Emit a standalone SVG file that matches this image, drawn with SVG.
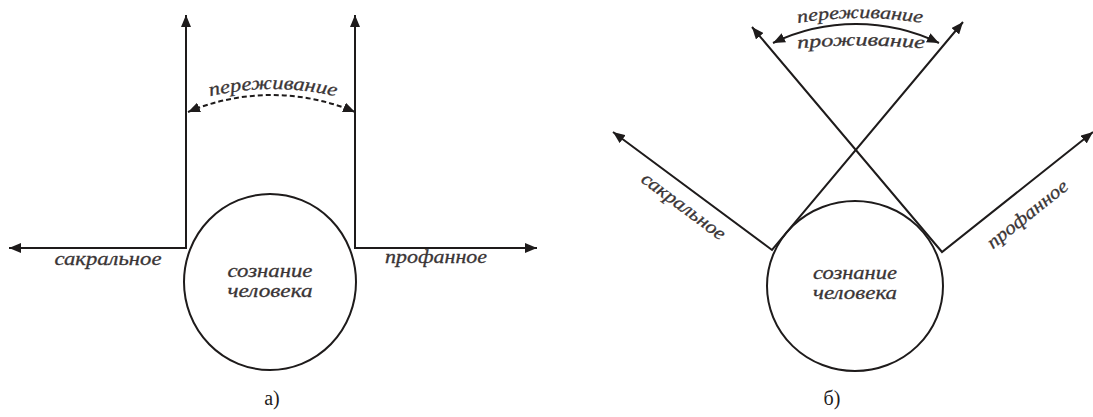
<svg xmlns="http://www.w3.org/2000/svg" width="1093" height="417" viewBox="0 0 1093 417">
<style>
.ln{fill:none;stroke:#1e1b1b;stroke-width:2;stroke-linejoin:miter}
.c{fill:none;stroke:#1e1b1b;stroke-width:2}
.t{font-family:"Liberation Serif",serif;font-style:italic;font-size:19px;fill:#3a3536;stroke:#3a3536;stroke-width:0.3}
.ts{font-size:18px}
.cap{font-family:"Liberation Serif",serif;font-size:20px;fill:#1e1b1b}
</style>
<defs>
<marker id="ah" viewBox="0 0 12 10" refX="12" refY="5" markerWidth="12" markerHeight="10" markerUnits="userSpaceOnUse" orient="auto-start-reverse">
<path d="M0,0 L12,5 L0,10 z" fill="#1e1b1b"/>
</marker>
<path id="pa" d="M200,99 A271,271 0 0 1 346,99"/>
<path id="pb1" d="M790,24.3 A393,393 0 0 1 930,24.3"/>
<path id="pb2" d="M790,49.3 A673,673 0 0 1 932,49.3"/>
</defs>
<rect width="1093" height="417" fill="#ffffff"/>

<g id="connectors">
<path class="ln" d="M186,15 L186,248 L9,248" marker-start="url(#ah)" marker-end="url(#ah)"/>
<path class="ln" d="M355,15 L355,248 L537,248" marker-start="url(#ah)" marker-end="url(#ah)"/>
<path class="ln" d="M188,112 A214,214 0 0 1 355,112" stroke-dasharray="5,3" marker-start="url(#ah)" marker-end="url(#ah)"/>
<path class="ln" d="M613,132 L772,250 L963,22" marker-start="url(#ah)" marker-end="url(#ah)"/>
<path class="ln" d="M752,27 L942,252 L1093,132" marker-start="url(#ah)" marker-end="url(#ah)"/>
<path class="ln" d="M773,43 A191,191 0 0 1 939,43" marker-start="url(#ah)" marker-end="url(#ah)"/>
</g>

<g id="node-a-consciousness">
<ellipse class="c" cx="270" cy="282" rx="86" ry="88"/>
<text class="t" x="270" y="277" text-anchor="middle" textLength="85" lengthAdjust="spacingAndGlyphs">сознание</text>
<text class="t" x="270" y="297" text-anchor="middle" textLength="85" lengthAdjust="spacingAndGlyphs">человека</text>
</g>
<g id="label-a-sacral"><text class="t" x="108" y="265" text-anchor="middle" textLength="107" lengthAdjust="spacingAndGlyphs">сакральное</text></g>
<g id="label-a-profane"><text class="t" x="436" y="263" text-anchor="middle" textLength="102" lengthAdjust="spacingAndGlyphs">профанное</text></g>
<g id="label-a-experience"><text class="t"><textPath href="#pa" startOffset="50%" text-anchor="middle" textLength="127" lengthAdjust="spacingAndGlyphs">переживание</textPath></text></g>
<g id="caption-a"><text class="cap" x="272" y="405" text-anchor="middle">а)</text></g>

<g id="node-b-consciousness">
<ellipse class="c" cx="855" cy="286" rx="88" ry="85"/>
<text class="t" x="855" y="279" text-anchor="middle" textLength="84" lengthAdjust="spacingAndGlyphs">сознание</text>
<text class="t" x="855" y="299" text-anchor="middle" textLength="84" lengthAdjust="spacingAndGlyphs">человека</text>
</g>
<g id="label-b-sacral"><text class="t" transform="translate(683,207) rotate(36.6)" x="0" y="5" text-anchor="middle" textLength="100" lengthAdjust="spacingAndGlyphs">сакральное</text></g>
<g id="label-b-profane"><text class="t" transform="translate(1028,215) rotate(-38.5)" x="0" y="5" text-anchor="middle" textLength="98" lengthAdjust="spacingAndGlyphs">профанное</text></g>
<g id="label-b-experience"><text class="t ts"><textPath href="#pb1" startOffset="50%" text-anchor="middle" textLength="125" lengthAdjust="spacingAndGlyphs">переживание</textPath></text></g>
<g id="label-b-living"><text class="t ts"><textPath href="#pb2" startOffset="50%" text-anchor="middle" textLength="127" lengthAdjust="spacingAndGlyphs">проживание</textPath></text></g>
<g id="caption-b"><text class="cap" x="832" y="405" text-anchor="middle">б)</text></g>
</svg>
